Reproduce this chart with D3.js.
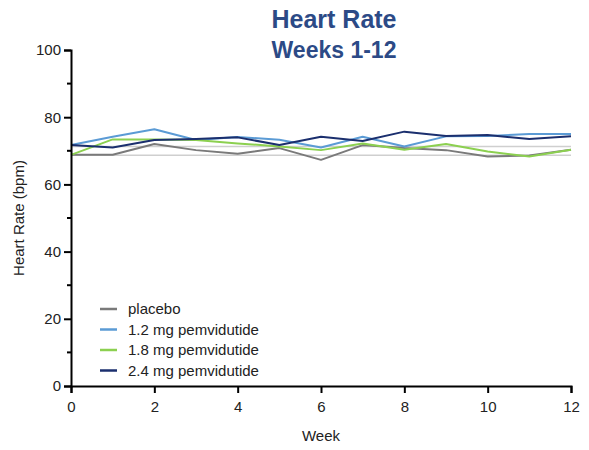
<!DOCTYPE html>
<html lang="en">
<head>
<meta charset="UTF-8">
<title>Heart Rate Weeks 1-12</title>
<style>
    body {
        margin: 0;
        padding: 0;
        background-color: #fff;
        font-family: "Liberation Sans", Arial, sans-serif;
    }
    #chart {
        display: block;
    }
    .tick text {
        font-size: 15px;
        fill: #222;
    }
</style>
</head>
<body>
<svg id="chart" width="589" height="450"></svg>

<script src="https://d3js.org/d3.v7.min.js"></script>
<script>
    // data
    var weeks = [0, 1, 2, 3, 4, 5, 6, 7, 8, 9, 10, 11, 12];
    var placebo = [68.8, 68.8, 72.0, 70.2, 69.1, 70.8, 67.3, 71.7, 70.8, 70.2, 68.3, 68.6, 70.3];
    var mg12 = [71.7, 74.2, 76.4, 73.2, 74.1, 73.3, 71.0, 74.2, 71.3, 74.3, 74.4, 75.0, 75.0];
    var mg18 = [68.8, 73.4, 73.4, 73.2, 72.2, 71.3, 70.2, 72.2, 70.3, 72.0, 69.8, 68.3, 70.3];
    var mg24 = [71.7, 71.0, 73.2, 73.5, 74.0, 71.7, 74.2, 72.9, 75.7, 74.4, 74.7, 73.5, 74.3];
    var seriesNames = ["placebo", "1.2 mg pemvidutide", "1.8 mg pemvidutide", "2.4 mg pemvidutide"];
    var seriesColors = ["#7a7a7a", "#5b9bd5", "#8cd050", "#1b2f6e"];
    var refLines = [71.3, 68.7];
    var xTicks = [0, 2, 4, 6, 8, 10, 12];
    var yTicks = [0, 20, 40, 60, 80, 100];
    var yMinorTicks = [10, 30, 50, 70, 90];

    var allSeries = [placebo, mg12, mg18, mg24];

    const svg = d3.select("#chart");

    const xScale = d3.scaleLinear().domain([0, 12]).range([71, 571]);
    const yScale = d3.scaleLinear().domain([0, 100]).range([386, 50]);

    // title
    svg.append("text")
      .attr("x", 334).attr("y", 28)
      .attr("text-anchor", "middle")
      .style("font-size", "25px").style("font-weight", "bold")
      .style("fill", "#2c4a86")
      .text("Heart Rate");
    svg.append("text")
      .attr("x", 334).attr("y", 58)
      .attr("text-anchor", "middle")
      .style("font-size", "23px").style("font-weight", "bold")
      .style("fill", "#2c4a86")
      .text("Weeks 1-12");

    // reference lines
    svg.selectAll(".ref")
      .data(refLines)
      .enter().append("line")
      .attr("class", "ref")
      .attr("x1", xScale(0)).attr("x2", xScale(12))
      .attr("y1", d => yScale(d)).attr("y2", d => yScale(d))
      .attr("stroke", "#cfcfcf")
      .attr("stroke-width", 1.5);

    // series lines
    const line = d3.line()
      .x((d, i) => xScale(weeks[i]))
      .y(d => yScale(d));

    allSeries.forEach(function (s, k) {
        svg.append("path")
          .datum(s)
          .attr("fill", "none")
          .attr("stroke", seriesColors[k])
          .attr("stroke-width", 2)
          .attr("stroke-linejoin", "round")
          .attr("d", line);
    });

    // axes
    const xAxis = d3.axisBottom(xScale).tickValues(xTicks).tickSize(7).tickPadding(8);
    const yAxis = d3.axisLeft(yScale).tickValues(yTicks).tickSize(7).tickPadding(3);

    const gx = svg.append("g")
      .attr("transform", "translate(0," + yScale(0) + ")")
      .call(xAxis);
    const gy = svg.append("g")
      .attr("transform", "translate(" + xScale(0) + ",0)")
      .call(yAxis);

    gy.selectAll(".minor")
      .data(yMinorTicks)
      .enter().append("line")
      .attr("class", "minor")
      .attr("x1", -4).attr("x2", 0)
      .attr("y1", d => yScale(d)).attr("y2", d => yScale(d))
      .attr("stroke", "#000").attr("stroke-width", 2);

    [gx, gy].forEach(function (g) {
        g.select(".domain").attr("stroke", "#000").attr("stroke-width", 2);
        g.selectAll(".tick line").attr("stroke", "#000").attr("stroke-width", 2);
        g.selectAll(".tick text").style("font-family", "'Liberation Sans', Arial, sans-serif");
    });

    // axis titles
    svg.append("text")
      .attr("x", xScale(6)).attr("y", 441)
      .attr("text-anchor", "middle")
      .style("font-size", "15px").style("fill", "#222")
      .text("Week");
    svg.append("text")
      .attr("transform", "translate(24," + yScale(50) + ") rotate(-90)")
      .attr("text-anchor", "middle")
      .style("font-size", "15px").style("fill", "#222")
      .text("Heart Rate (bpm)");

    // legend
    const legend = svg.append("g").attr("transform", "translate(100,309)");
    seriesNames.forEach(function (name, k) {
        const row = legend.append("g").attr("transform", "translate(0," + k * 20.5 + ")");
        row.append("line")
          .attr("x1", 0).attr("x2", 17)
          .attr("y1", 0).attr("y2", 0)
          .attr("stroke", seriesColors[k]).attr("stroke-width", 2.5);
        row.append("text")
          .attr("x", 28).attr("y", 5)
          .style("font-size", "15px").style("fill", "#222")
          .text(name);
    });
</script>
</body>
</html>
